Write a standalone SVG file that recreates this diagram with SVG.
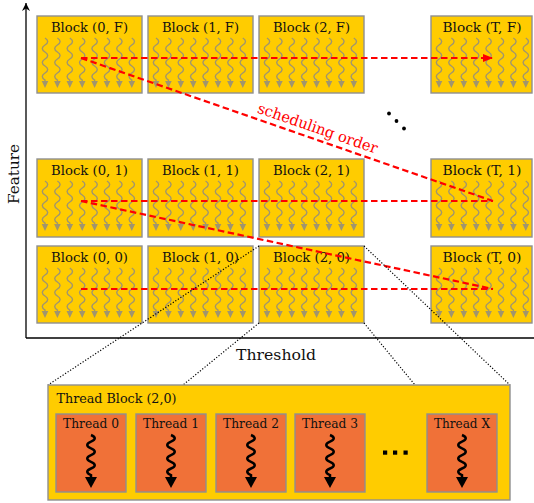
<svg xmlns="http://www.w3.org/2000/svg" xmlns:xlink="http://www.w3.org/1999/xlink" width="534" height="503" viewBox="0 0 534 503">
<style>
.blk{fill:#FFCC00;stroke:#8f8f8f;stroke-width:1.4}
.thr{fill:#F07138;stroke:#8f8f8f;stroke-width:1.4}
text{font-family:"DejaVu Serif","Liberation Serif",serif}
.lbl{font-size:13.5px;fill:#111;text-anchor:middle}
.tl{font-size:13px;fill:#111;text-anchor:middle}
.ax{font-size:15px;fill:#111;text-anchor:middle}
.red{fill:none;stroke:#FF0000;stroke-width:2.2;stroke-dasharray:6.5,3.5}
.dot{fill:none;stroke:#000;stroke-width:1.2;stroke-dasharray:1.2,1.8}
.wv{fill:none;stroke:#A0956E;stroke-width:1.4}
.wvh{fill:#A0956E}
.bw{fill:none;stroke:#000;stroke-width:2.5}
</style>
<defs>
<g id="ta">
<path class="wv" d="M0,0 c3.6,2.3 3.6,4.7 0,7 c-3.6,2.3 -3.6,4.7 0,7 c3.6,2.3 3.6,4.7 0,7 c-3.6,2.3 -3.6,4.7 0,7 c3.6,2.3 3.6,4.7 0,7 c-3.6,2.3 -3.6,4.7 0,7 v1"/>
<polygon class="wvh" points="-3.3,43 3.3,43 0,50"/>
</g>
<g id="ta8">
<use xlink:href="#ta" x="8"/>
<use xlink:href="#ta" x="20.4"/>
<use xlink:href="#ta" x="32.8"/>
<use xlink:href="#ta" x="45.2"/>
<use xlink:href="#ta" x="57.6"/>
<use xlink:href="#ta" x="70"/>
<use xlink:href="#ta" x="82.4"/>
<use xlink:href="#ta" x="94.8"/>
</g>
<g id="bt">
<path class="bw" d="M0,0 c5,2 5,4.7 0,6.7 c-5,2 -5,4.7 0,6.7 c5,2 5,4.7 0,6.7 c-5,2 -5,4.7 0,6.7 c5,2 5,4.7 0,6.7 c-5,2 -5,4.7 0,6.7 v2"/>
<polygon points="-6,42 6,42 0,53" fill="#000"/>
</g>
<marker id="rh" markerWidth="10" markerHeight="10" viewBox="0 0 10 10" refX="9" refY="5" orient="auto" markerUnits="userSpaceOnUse">
<path d="M0,1 L10,5 L0,9 Z" fill="#FF0000"/>
</marker>
<marker id="kh" markerWidth="8" markerHeight="8" viewBox="0 0 10 10" refX="10" refY="5" orient="auto" markerUnits="userSpaceOnUse">
<path d="M0,0 L10,5 L0,10 L3,5 Z" fill="#000"/>
</marker>
</defs>

<g id="axes">
<line x1="26" y1="338" x2="26" y2="3" stroke="#000" stroke-width="1.3" marker-end="url(#kh)"/>
<line x1="26" y1="338" x2="534" y2="338" stroke="#000" stroke-width="1.3"/>
<text class="ax" x="276" y="360" textLength="80" lengthAdjust="spacingAndGlyphs">Threshold</text>
<text class="ax" transform="translate(19,174) rotate(-90)" x="0" y="0" textLength="60" lengthAdjust="spacingAndGlyphs">Feature</text>
</g>

<g id="block-0-F"><rect class="blk" x="37" y="16" width="105" height="77"/><text class="lbl" x="89.5" y="32" textLength="77" lengthAdjust="spacingAndGlyphs">Block (0, F)</text><use xlink:href="#ta8" x="37" y="38"/></g>
<g id="block-1-F"><rect class="blk" x="148" y="16" width="105" height="77"/><text class="lbl" x="200.5" y="32" textLength="77" lengthAdjust="spacingAndGlyphs">Block (1, F)</text><use xlink:href="#ta8" x="148" y="38"/></g>
<g id="block-2-F"><rect class="blk" x="259" y="16" width="105" height="77"/><text class="lbl" x="311.5" y="32" textLength="77" lengthAdjust="spacingAndGlyphs">Block (2, F)</text><use xlink:href="#ta8" x="259" y="38"/></g>
<g id="block-T-F"><rect class="blk" x="431" y="16" width="101" height="77"/><text class="lbl" x="482" y="32" textLength="79" lengthAdjust="spacingAndGlyphs">Block (T, F)</text><use xlink:href="#ta8" x="431" y="38"/></g>

<g id="block-0-1"><rect class="blk" x="37" y="159" width="105" height="78"/><text class="lbl" x="89.5" y="175" textLength="77" lengthAdjust="spacingAndGlyphs">Block (0, 1)</text><use xlink:href="#ta8" x="37" y="181"/></g>
<g id="block-1-1"><rect class="blk" x="148" y="159" width="105" height="78"/><text class="lbl" x="200.5" y="175" textLength="77" lengthAdjust="spacingAndGlyphs">Block (1, 1)</text><use xlink:href="#ta8" x="148" y="181"/></g>
<g id="block-2-1"><rect class="blk" x="259" y="159" width="105" height="78"/><text class="lbl" x="311.5" y="175" textLength="77" lengthAdjust="spacingAndGlyphs">Block (2, 1)</text><use xlink:href="#ta8" x="259" y="181"/></g>
<g id="block-T-1"><rect class="blk" x="431" y="159" width="101" height="78"/><text class="lbl" x="482" y="175" textLength="79" lengthAdjust="spacingAndGlyphs">Block (T, 1)</text><use xlink:href="#ta8" x="431" y="181"/></g>

<g id="block-0-0"><rect class="blk" x="37" y="246" width="105" height="77"/><text class="lbl" x="89.5" y="262" textLength="77" lengthAdjust="spacingAndGlyphs">Block (0, 0)</text><use xlink:href="#ta8" x="37" y="268"/></g>
<g id="block-1-0"><rect class="blk" x="148" y="246" width="105" height="77"/><text class="lbl" x="200.5" y="262" textLength="77" lengthAdjust="spacingAndGlyphs">Block (1, 0)</text><use xlink:href="#ta8" x="148" y="268"/></g>
<g id="block-2-0"><rect class="blk" x="259" y="246" width="105" height="77"/><text class="lbl" x="311.5" y="262" textLength="77" lengthAdjust="spacingAndGlyphs">Block (2, 0)</text><use xlink:href="#ta8" x="259" y="268"/></g>
<g id="block-T-0"><rect class="blk" x="431" y="246" width="101" height="77"/><text class="lbl" x="482" y="262" textLength="79" lengthAdjust="spacingAndGlyphs">Block (T, 0)</text><use xlink:href="#ta8" x="431" y="268"/></g>

<g id="ellipsis-blocks" fill="#000">
<circle cx="389" cy="113.5" r="1.9"/><circle cx="396.5" cy="121" r="1.9"/><circle cx="404" cy="128.5" r="1.9"/>
</g>

<g id="connectors">
<line class="red" x1="81" y1="58" x2="492" y2="58" marker-end="url(#rh)"/>
<line class="red" x1="81" y1="58" x2="493" y2="201"/>
<line class="red" x1="81" y1="201" x2="493" y2="201"/>
<line class="red" x1="81" y1="201" x2="493" y2="289"/>
<line class="red" x1="81" y1="289" x2="493" y2="289"/>
<text transform="translate(316,133) rotate(19.1)" x="0" y="0" font-size="15" fill="#FF0000" text-anchor="middle" textLength="126" lengthAdjust="spacingAndGlyphs">scheduling order</text>
<line class="dot" x1="259" y1="246" x2="48" y2="385"/>
<line class="dot" x1="259" y1="323" x2="183" y2="385"/>
<line class="dot" x1="364" y1="246" x2="510" y2="385"/>
<line class="dot" x1="364" y1="323" x2="415" y2="385"/>
</g>

<g id="thread-block">
<rect class="blk" x="48" y="385" width="462" height="115"/>
<text class="tl" x="56.5" y="403" style="text-anchor:start" textLength="120" lengthAdjust="spacingAndGlyphs">Thread Block (2,0)</text>
</g>
<g id="thread-0"><rect class="thr" x="56" y="414" width="70" height="78"/><text class="tl" x="91" y="428" textLength="56" lengthAdjust="spacingAndGlyphs">Thread 0</text><use xlink:href="#bt" x="91" y="435"/></g>
<g id="thread-1"><rect class="thr" x="136" y="414" width="70" height="78"/><text class="tl" x="171" y="428" textLength="56" lengthAdjust="spacingAndGlyphs">Thread 1</text><use xlink:href="#bt" x="171" y="435"/></g>
<g id="thread-2"><rect class="thr" x="216" y="414" width="70" height="78"/><text class="tl" x="251" y="428" textLength="56" lengthAdjust="spacingAndGlyphs">Thread 2</text><use xlink:href="#bt" x="251" y="435"/></g>
<g id="thread-3"><rect class="thr" x="295" y="414" width="70" height="78"/><text class="tl" x="330" y="428" textLength="56" lengthAdjust="spacingAndGlyphs">Thread 3</text><use xlink:href="#bt" x="330" y="435"/></g>
<g id="thread-ellipsis" fill="#000">
<rect x="383" y="450.5" width="4.2" height="4.2"/><rect x="393" y="450.5" width="4.2" height="4.2"/><rect x="403.5" y="450.5" width="4.2" height="4.2"/>
</g>
<g id="thread-X"><rect class="thr" x="427" y="414" width="70" height="78"/><text class="tl" x="462" y="428" textLength="56" lengthAdjust="spacingAndGlyphs">Thread X</text><use xlink:href="#bt" x="462" y="435"/></g>
</svg>
